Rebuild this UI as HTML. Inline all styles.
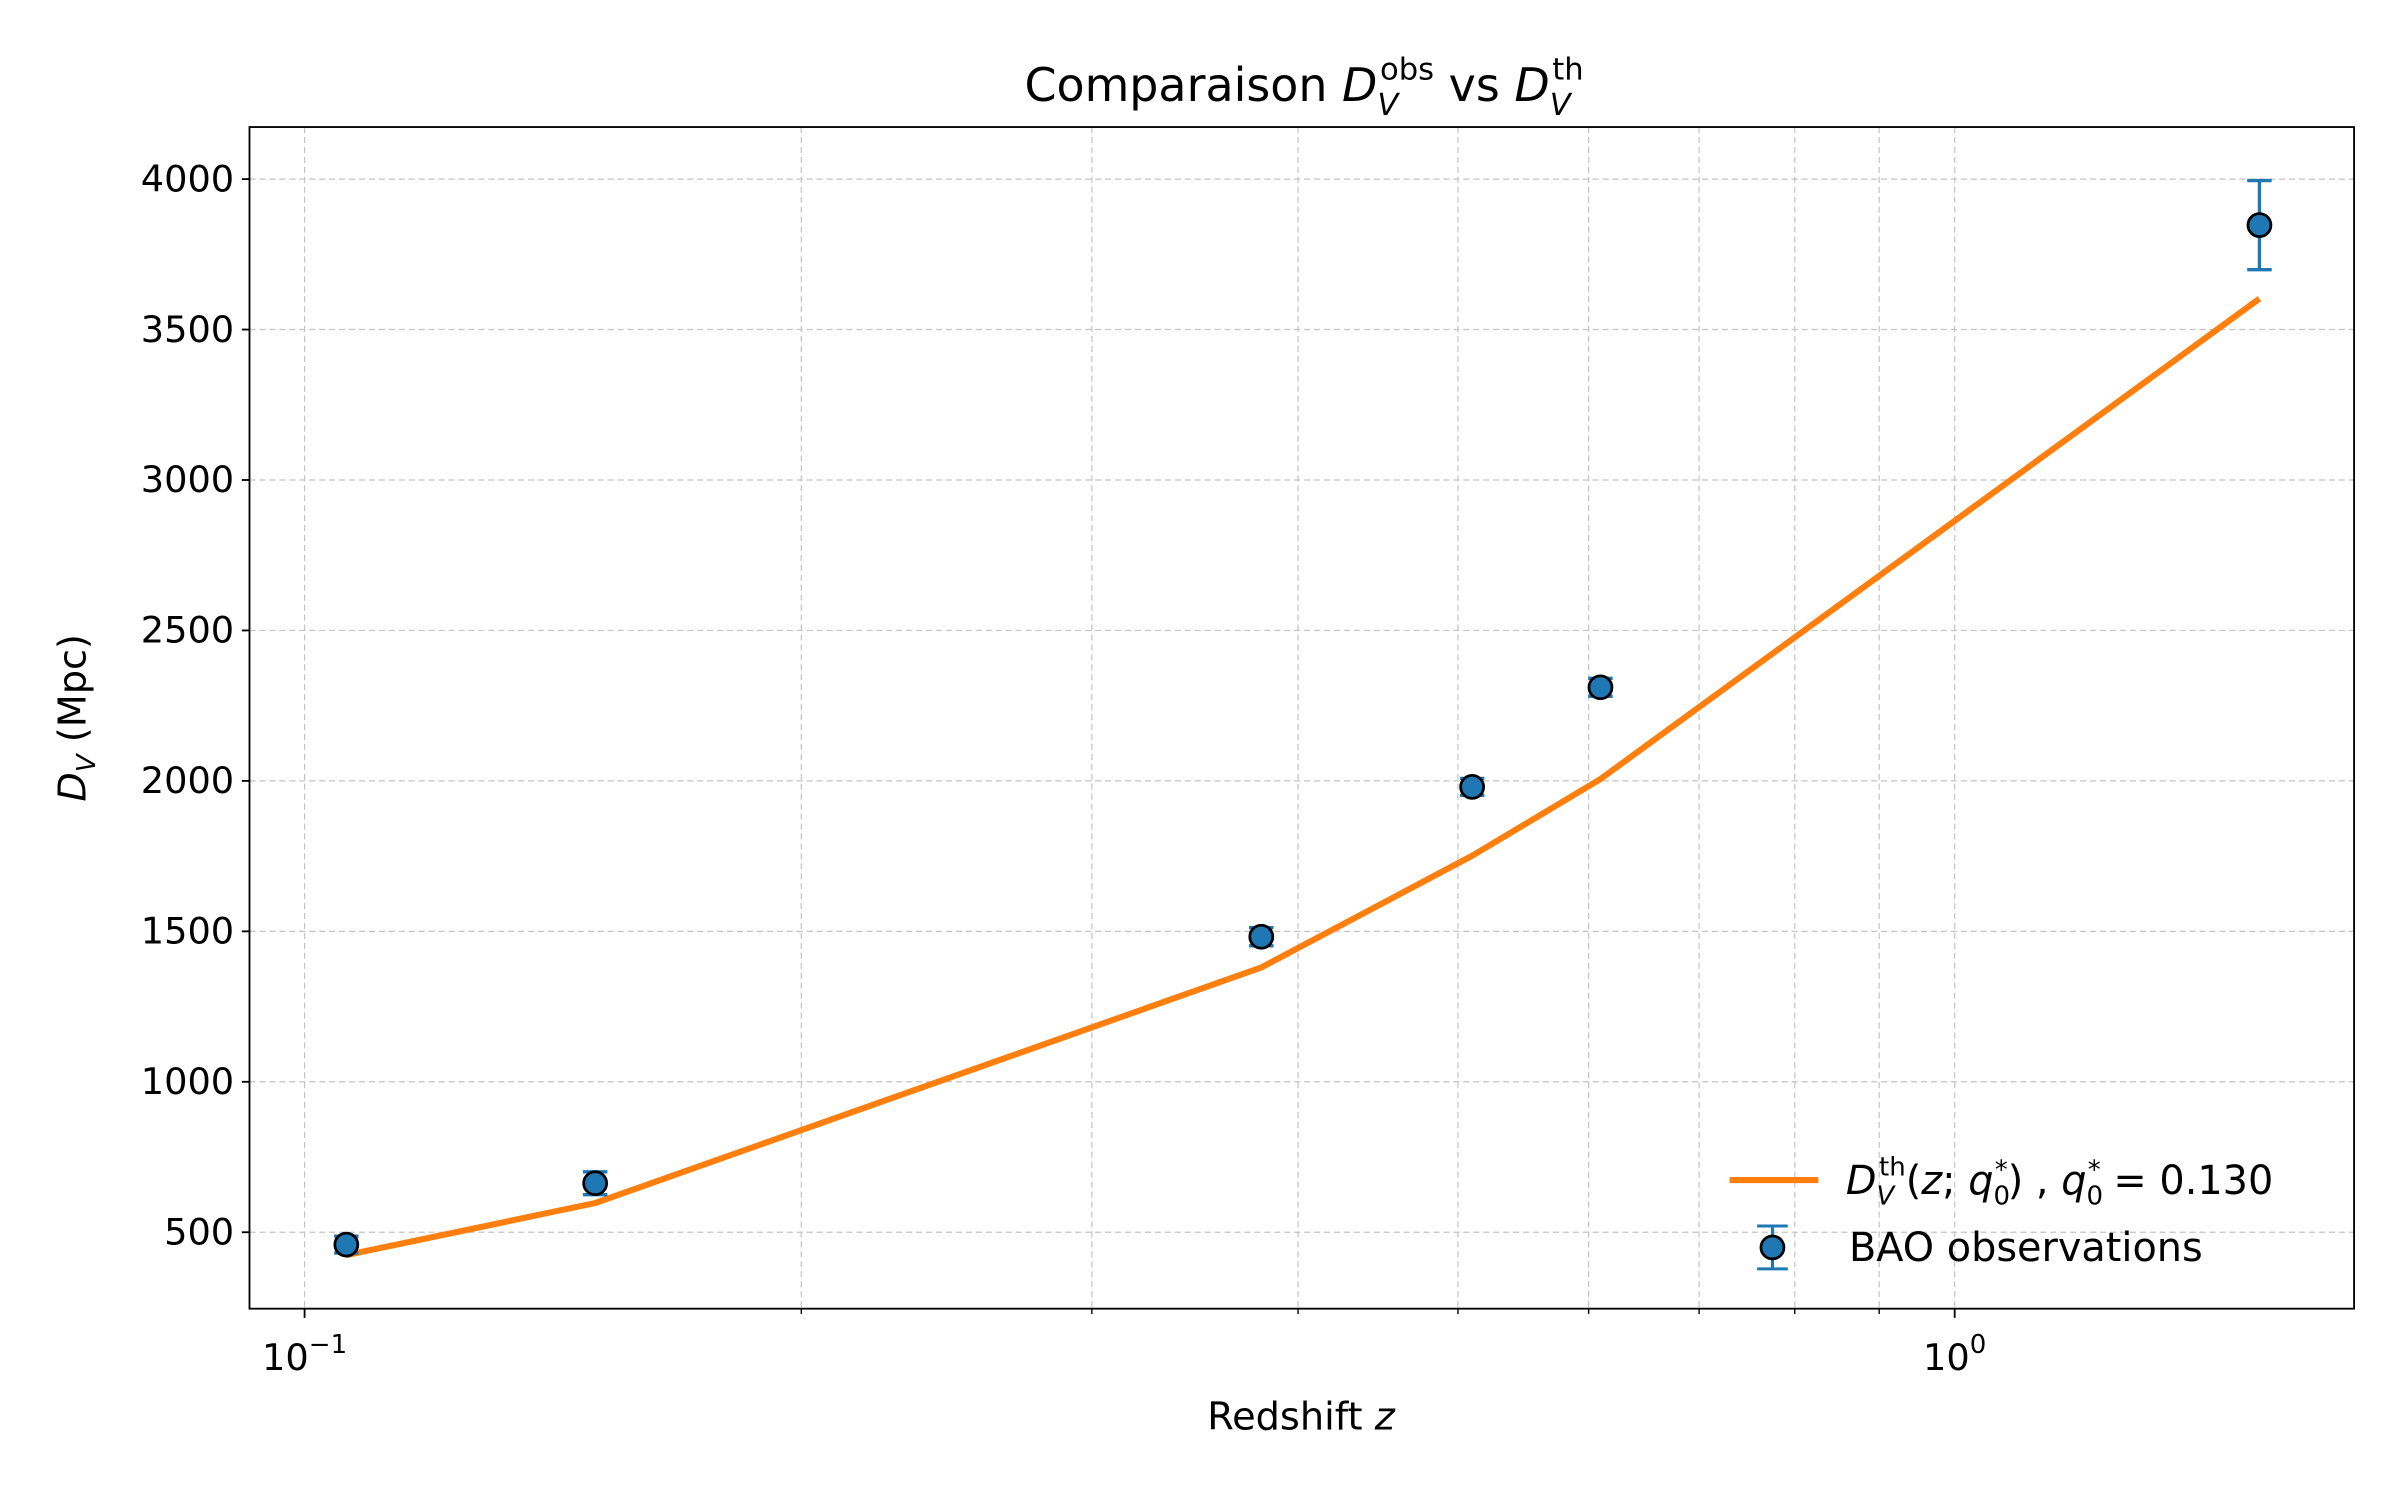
<!DOCTYPE html>
<html><head><meta charset="utf-8"><style>
html,body{margin:0;padding:0;background:#fff}
svg{display:block;font-family:"DejaVu Sans","Liberation Sans",sans-serif}
</style></head><body>
<svg id="chart" width="2400" height="1500" viewBox="0 0 1568 980" xmlns="http://www.w3.org/2000/svg">
<rect width="1568" height="980" fill="#fff"/>
<g id="grid"></g>
<g id="marks"></g>
<rect x="163" y="83" width="1375" height="772" fill="none" stroke="#000" stroke-width="1.2"/>
<g id="ticks"></g>
<text x="852" y="66" font-size="30" text-anchor="middle">Comparaison <tspan font-style="italic">D</tspan><tspan font-size="20" font-style="italic" dy="9">V</tspan><tspan font-size="20" dy="-23" dx="-12">obs</tspan><tspan dy="14"> vs </tspan><tspan font-style="italic">D</tspan><tspan font-size="20" font-style="italic" dy="9">V</tspan><tspan font-size="20" dy="-23" dx="-12">th</tspan></text>
<text x="850" y="934" font-size="25" text-anchor="middle">Redshift <tspan font-style="italic">z</tspan></text>
<text transform="translate(56,469) rotate(-90)" font-size="25" text-anchor="middle"><tspan font-style="italic">D</tspan><tspan font-size="17" font-style="italic" dy="6">V</tspan><tspan dy="-6"> (Mpc)</tspan></text>
<g>
<line x1="1130" y1="771" x2="1188" y2="771" stroke="#ff7f0e" stroke-width="4"/>
<text x="1206" y="780" font-size="26"><tspan font-style="italic">D</tspan><tspan font-size="17" font-style="italic" dy="7">V</tspan><tspan font-size="17" dy="-19" dx="-10">th</tspan><tspan dy="12">(</tspan><tspan font-style="italic">z</tspan>; <tspan font-style="italic">q</tspan><tspan font-size="17" dy="7">0</tspan><tspan font-size="17" dy="-17" dx="-10">*</tspan><tspan dy="10">) ,  </tspan><tspan font-style="italic">q</tspan><tspan font-size="17" dy="7">0</tspan><tspan font-size="17" dy="-17" dx="-10">*</tspan><tspan dy="10"> = 0.130</tspan></text>
<line x1="1158" y1="801" x2="1158" y2="829" stroke="#1f77b4" stroke-width="2"/>
<line x1="1148" y1="801" x2="1168" y2="801" stroke="#1f77b4" stroke-width="2"/>
<line x1="1148" y1="829" x2="1168" y2="829" stroke="#1f77b4" stroke-width="2"/>
<circle cx="1158" cy="815" r="7.5" fill="#1f77b4" stroke="#000" stroke-width="1.8"/>
<text x="1208" y="824" font-size="26">BAO observations</text>
</g>
</svg>
<script>
const zObs = [0.106, 0.15, 0.38, 0.51, 0.61, 1.53];
const dvObs = [459, 663, 1482, 1980, 2311, 3847];
const dvErr = [28, 38, 30, 28, 30, 148];
const zTh = [0.106, 0.15, 0.38, 0.51, 0.61, 1.53];
const dvTh = [424, 597, 1380, 1751, 2006, 3603];
const yTicks = [500, 1000, 1500, 2000, 2500, 3000, 3500, 4000];
const xMajor = [0.1, 1];
const xMinor = [0.2, 0.3, 0.4, 0.5, 0.6, 0.7, 0.8, 0.9];

const L=163,R=1538,T=83,B=855;
const xmin=Math.log10(0.0926), xmax=Math.log10(1.746);
const ymin=246, ymax=4173;
function X(z){return L+(Math.log10(z)-xmin)/(xmax-xmin)*(R-L);}
function Y(v){return B-(v-ymin)/(ymax-ymin)*(B-T);}
const NS='http://www.w3.org/2000/svg';
function mk(tag,attrs,parent){const e=document.createElementNS(NS,tag);for(const k in attrs)e.setAttribute(k,attrs[k]);parent.appendChild(e);return e;}
const grid=document.getElementById('grid'),marks=document.getElementById('marks'),ticks=document.getElementById('ticks');
const gs={stroke:'#c4c4c4','stroke-width':0.8,'stroke-dasharray':'4,2.5'};
yTicks.forEach(v=>{
  const y=Y(v);
  const g=mk('line',Object.assign({x1:L,x2:R,y1:y,y2:y},gs),grid);
  
  
  mk('line',{x1:L-5,x2:L,y1:y,y2:y,stroke:'#000','stroke-width':1.2},ticks);
  const t=mk('text',{x:L-10,y:y+8,'font-size':24,'text-anchor':'end'},ticks);
  t.textContent=v;
  
  
});
xMajor.concat(xMinor).forEach(z=>{
  const x=X(z);
  const g=mk('line',Object.assign({x1:x,x2:x,y1:T,y2:B},gs),grid);
  
  
});
xMajor.forEach(z=>{
  const x=X(z);
  mk('line',{x1:x,x2:x,y1:B,y2:B+6,stroke:'#000','stroke-width':1.2},ticks);
  const t=mk('text',{x:x,y:B+40,'font-size':24,'text-anchor':'middle'},ticks);
  
  
  const e=Math.round(Math.log10(z));
  t.innerHTML='10<tspan font-size="17" dy="-11">'+(e<0?'\u2212':'')+Math.abs(e)+'</tspan>';
});
xMinor.forEach(z=>{
  const x=X(z);
  mk('line',{x1:x,x2:x,y1:B,y2:B+3.5,stroke:'#000','stroke-width':0.9},ticks);
});
const pts=zTh.map((z,i)=>X(z).toFixed(1)+','+Y(dvTh[i]).toFixed(1)).join(' ');
const pl=mk('polyline',{points:pts,fill:'none',stroke:'#ff7f0e','stroke-width':4,'stroke-linejoin':'round'},marks);


zObs.forEach((z,i)=>{
  const x=X(z),y1=Y(dvObs[i]-dvErr[i]),y2=Y(dvObs[i]+dvErr[i]);
  const eb=mk('g',{},marks);
  
  
  mk('line',{x1:x,x2:x,y1:y1,y2:y2,stroke:'#1f77b4','stroke-width':2.2},eb);
  mk('line',{x1:x-8,x2:x+8,y1:y1,y2:y1,stroke:'#1f77b4','stroke-width':2.2},eb);
  mk('line',{x1:x-8,x2:x+8,y1:y2,y2:y2,stroke:'#1f77b4','stroke-width':2.2},eb);
  const c=mk('circle',{cx:x,cy:Y(dvObs[i]),r:7.5,fill:'#1f77b4',stroke:'#000','stroke-width':1.8},marks);
  
  
});
</script>
</body></html>
